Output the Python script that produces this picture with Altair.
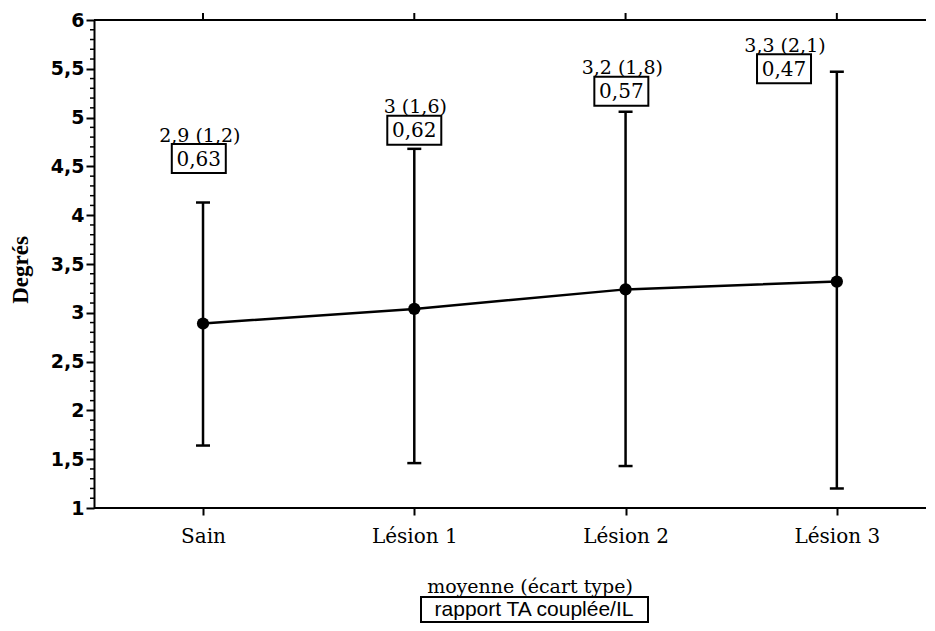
import json
import altair as alt
import pandas as pd

# ---- data ----
categories = ["Sain", "Lésion 1", "Lésion 2", "Lésion 3"]
means = [2.89, 3.04, 3.24, 3.32]
lower = [1.64, 1.46, 1.43, 1.20]
upper = [4.13, 4.68, 5.06, 5.47]
mean_txt = ["2,9", "3", "3,2", "3,3"]
sd_txt = ["1,2", "1,6", "1,8", "2,1"]
ratios = ["0,63", "0,62", "0,57", "0,47"]
# annotation anchor (box centre) in data units
box_x = [-0.02, 1.0, 1.98, 2.75]
box_y = [4.58, 4.87, 5.27, 5.50]

y_ticks = [1, 1.5, 2, 2.5, 3, 3.5, 4, 4.5, 5, 5.5, 6]
minor_ticks = [1.1, 1.2, 1.3, 1.4, 1.6, 1.7, 1.8, 1.9, 2.1, 2.2, 2.3, 2.4,
               2.6, 2.7, 2.8, 2.9, 3.1, 3.2, 3.3, 3.4, 3.6, 3.7, 3.8, 3.9,
               4.1, 4.2, 4.3, 4.4, 4.6, 4.7, 4.8, 4.9, 5.1, 5.2, 5.3, 5.4,
               5.6, 5.7, 5.8, 5.9]

df = pd.DataFrame({
    "idx": list(range(len(categories))),
    "cat": categories,
    "mean": means,
    "lower": lower,
    "upper": upper,
    "top_txt": [f"{m} ({s})" for m, s in zip(mean_txt, sd_txt)],
    "ratio": ratios,
    "box_x": box_x,
    "box_y": box_y,
})
minor_df = pd.DataFrame({"v": minor_ticks})
one = pd.DataFrame({"a": [0]})

W, H = 832, 488

xs = alt.Scale(domain=[-0.516, 3.422], nice=False, zero=False)
ys = alt.Scale(domain=[1, 6], nice=False, zero=False)

xaxis = alt.Axis(
    values=[0, 1, 2, 3],
    labelExpr=json.dumps(categories) + "[datum.value]",
    domain=False, grid=False, title=None,
    tickSize=7, tickWidth=2, tickColor="black",
    labelColor="black", labelFont="DejaVu Serif", labelFontSize=20,
    labelPadding=11,
)
yaxis = alt.Axis(
    values=y_ticks,
    labelExpr="replace(toString(datum.value), '.', ',')",
    grid=False, title=None,
    domainColor="black", domainWidth=2,
    tickSize=8, tickWidth=2, tickColor="black",
    labelColor="black", labelFont="DejaVu Sans", labelFontWeight="bold",
    labelFontSize=19, labelPadding=2,
)

X = alt.X("idx:Q", scale=xs, axis=xaxis)
base = alt.Chart(df)

line = base.mark_line(color="black", strokeWidth=2.5).encode(
    x=X, y=alt.Y("mean:Q", scale=ys, axis=yaxis)
)
err = base.mark_rule(color="black", strokeWidth=2.5).encode(
    x=X, y=alt.Y("lower:Q", scale=ys, axis=yaxis), y2="upper:Q"
)
cap_top = base.mark_rule(color="black", strokeWidth=2.5, xOffset=-7, x2Offset=7).encode(
    x=X, x2="idx:Q", y=alt.Y("upper:Q", scale=ys, axis=yaxis)
)
cap_bot = base.mark_rule(color="black", strokeWidth=2.5, xOffset=-7, x2Offset=7).encode(
    x=X, x2="idx:Q", y=alt.Y("lower:Q", scale=ys, axis=yaxis)
)
pts = base.mark_circle(size=150, color="black", opacity=1).encode(
    x=X, y=alt.Y("mean:Q", scale=ys, axis=yaxis)
)

box_path = "M-1,-0.537L1,-0.537L1,0.537L-1,0.537Z"
boxes = base.mark_point(
    shape=box_path, size=2916, filled=True, fill="white",
    stroke="black", strokeWidth=2, opacity=1
).encode(
    x=alt.X("box_x:Q", scale=xs, axis=xaxis),
    y=alt.Y("box_y:Q", scale=ys, axis=yaxis),
)
box_txt = base.mark_text(
    font="DejaVu Serif", fontSize=20, color="black", baseline="middle", align="center", dy=1
).encode(
    x=alt.X("box_x:Q", scale=xs, axis=xaxis),
    y=alt.Y("box_y:Q", scale=ys, axis=yaxis),
    text="ratio:N",
)
top_txt = base.mark_text(
    font="DejaVu Serif", fontSize=19, color="black", baseline="middle", align="center", dy=-23, dx=1
).encode(
    x=alt.X("box_x:Q", scale=xs, axis=xaxis),
    y=alt.Y("box_y:Q", scale=ys, axis=yaxis),
    text="top_txt:N",
)

# frame lines and extra ticks
frame_top = alt.Chart(one).mark_rule(color="black", strokeWidth=2).encode(
    x=alt.value(0), x2=alt.value(W + 20), y=alt.value(0)
)
frame_bot = alt.Chart(one).mark_rule(color="black", strokeWidth=2).encode(
    x=alt.value(0), x2=alt.value(W + 20), y=alt.value(H)
)
top_ticks = base.mark_rule(color="black", strokeWidth=2).encode(
    x=X, y=alt.value(0), y2=alt.value(-7)
)
minor = alt.Chart(minor_df).mark_rule(color="black", strokeWidth=1.5).encode(
    y=alt.Y("v:Q", scale=ys, axis=yaxis), x=alt.value(0), x2=alt.value(-4)
)

# titles / legend
ytitle = alt.Chart(one).mark_text(
    font="Liberation Serif", fontWeight="bold", angle=270,
    color="black", baseline="middle", align="center"
).encode(x=alt.value(-73), y=alt.value(250), text=alt.value("Degrés"),
         size=alt.value(23))
xtitle = alt.Chart(one).mark_text(
    font="DejaVu Serif", color="black", baseline="middle", align="center"
).encode(x=alt.value(436), y=alt.value(567), text=alt.value("moyenne (écart type)"),
         size=alt.value(19))
leg_box = alt.Chart(one).mark_rect(fill="white", stroke="black", strokeWidth=2).encode(
    x=alt.value(327), x2=alt.value(554), y=alt.value(577), y2=alt.value(602)
)
leg_txt = alt.Chart(one).mark_text(
    font="Liberation Sans", color="black", baseline="middle", align="center"
).encode(x=alt.value(440), y=alt.value(590), text=alt.value("rapport TA couplée/IL"),
         size=alt.value(21))

chart = alt.layer(
    frame_top, frame_bot, top_ticks, minor, err, cap_top, cap_bot, line, pts,
    boxes, box_txt, top_txt, ytitle, xtitle, leg_box, leg_txt
).properties(
    width=W, height=H,
    autosize=alt.AutoSizeParams(type="none"),
    padding={"left": 86, "top": 12, "right": 0, "bottom": 115},
    background="white",
).configure_view(stroke=None)

chart.save("out.html", embed_options={"renderer": "svg", "actions": False})
